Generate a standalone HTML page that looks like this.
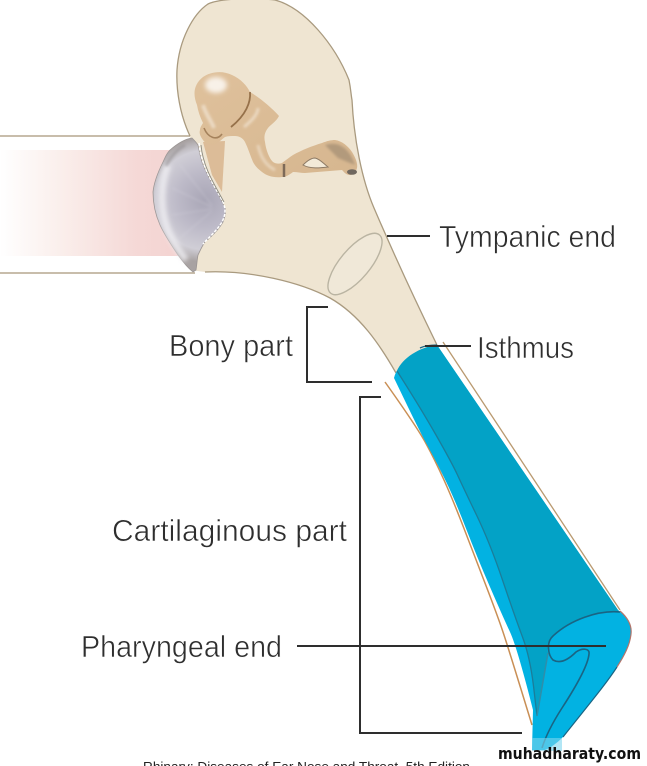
<!DOCTYPE html>
<html><head><meta charset="utf-8"><style>
html,body{margin:0;padding:0;background:#fff}
svg{display:block}
text{font-family:"Liberation Sans",sans-serif;fill:#2e2e2e}
.l{stroke:#fff;stroke-width:.55px}
</style></head><body>
<svg width="647" height="766" viewBox="0 0 647 766" xmlns="http://www.w3.org/2000/svg">
<defs>
<linearGradient id="pink" x1="0" x2="1" y1="0" y2="0"><stop offset="0" stop-color="#fff"/><stop offset=".35" stop-color="#faeeeb"/><stop offset=".75" stop-color="#f5d9d7"/><stop offset="1" stop-color="#f4d3d1"/></linearGradient>
<radialGradient id="drum" gradientUnits="userSpaceOnUse" cx="205" cy="200" r="62"><stop offset="0" stop-color="#a9a6b6"/><stop offset="0.45" stop-color="#bdbac8"/><stop offset="0.8" stop-color="#d0ced6"/><stop offset="1" stop-color="#a8a2a2"/></radialGradient>
<linearGradient id="bodyc" x1="0" y1="0" x2="1" y2="1"><stop offset="0" stop-color="#dfc19c"/><stop offset="1" stop-color="#d6b68f"/></linearGradient>
<filter id="b2" x="-50%" y="-50%" width="200%" height="200%"><feGaussianBlur stdDeviation="2.5"/></filter>
<filter id="b1" x="-50%" y="-50%" width="200%" height="200%"><feGaussianBlur stdDeviation="1.2"/></filter>
</defs>
<rect x="0" y="150" width="178" height="106" fill="url(#pink)"/>
<path d="M0 136H190M0 273H195" stroke="#b5a78f" stroke-width="1.6" fill="none"/>
<!-- bone -->
<path d="M190 136C180 115 176 90 177 70C179 40 193 14 208 4C218 -1 250 -3 275 0C305 8 335 45 349 80C351 90 351 95 352 100C354 140 362 180 374 208C392 250 415 300 437 345L396 373C380 345 360 315 330 298C300 282 250 270 205 272L190 270Z" fill="#efe5d2"/>
<path d="M190 136C180 115 176 90 177 70C179 40 193 14 208 4C218 -1 250 -3 275 0C305 8 335 45 349 80C351 90 351 95 352 100C354 140 362 180 374 208C392 250 415 300 437 345" fill="none" stroke="#a99a7f" stroke-width="1.3"/>
<path d="M396 373C380 345 360 315 330 298C300 282 250 270 205 272" fill="none" stroke="#a99a7f" stroke-width="1.3"/>
<ellipse cx="355" cy="264" rx="38" ry="15" transform="rotate(-50 355 264)" fill="#f0e8d8" stroke="#bab4a2" stroke-width="1.4"/>
<!-- manubrium behind drum -->
<path d="M203 142L225 141L222 192L212 175Z" fill="#dcbc98"/>
<!-- ossicles -->
<path d="M197 105C193 95 193 85 203 77C210 72 222 70 232 75C241 79 247 86 250 92C260 98 272 108 279 116C276 122 270 125 268 128C264 133 264 138 265 142C266 150 269 158 273 162C276 164 279 164 282 163C286 160 290 157 293 155C302 150 312 146 322 143C327 141 331 140 335 140C342 141 348 146 352 152C355 157 358 163 357 168C356 172 353 175 350 175C346 175 344 172 342 170C330 171 317 172 305 173C301 173 297 172 293 172C289 175 286 177 282 177C274 178 267 176 262 172C258 169 255 166 253 162C250 155 248 148 245 142C243 138 239 136 235 136C231 136 228 136 225 137C221 140 217 144 213 145C208 145 205 143 203 140C200 136 199 133 200 130C200 127 202 125 203 123C200 117 198 111 197 105Z" fill="url(#bodyc)"/>
<ellipse cx="216" cy="85" rx="11" ry="8" fill="#f8f1e8" filter="url(#b2)"/>
<path d="M203 105C206 115 212 122 214 128" stroke="#efe0cc" stroke-width="4" fill="none" filter="url(#b1)" opacity=".8"/>
<path d="M258 108C258 115 250 122 244 127" stroke="#efe0cc" stroke-width="3" fill="none" filter="url(#b1)" opacity=".8"/>
<path d="M250 92C251 102 246 115 231 127" stroke="#96714a" stroke-width="1.8" fill="none"/>
<path d="M258 145C260 155 265 165 275 170" stroke="#efe0cc" stroke-width="3" fill="none" filter="url(#b1)" opacity=".7"/>
<path d="M204 128C208 138 217 141 222 134" stroke="#a5825c" stroke-width="1.6" fill="none"/>
<path d="M284 164V177" stroke="#7d6a58" stroke-width="2.5"/>
<path d="M303 165C308 160 312 158 315 158C320 159 324 164 328 167C320 168 310 169 303 165Z" fill="#f3ead8" stroke="#8d7a65" stroke-width="1"/>
<path d="M325 145C340 140 350 150 355 165L338 158Z" fill="#b29a7c" filter="url(#b1)"/>
<ellipse cx="352" cy="172" rx="5" ry="2.8" fill="#6f675f"/>
<!-- drum -->
<path d="M192 138C185 139 178 143 170 150C166 154 165 158 163 162C158 172 154 182 153 192C153 205 156 216 160 225C165 236 172 246 178 255C183 262 188 268 193 272L196 270C197 264 197 260 198 255C200 251 202 246 205 242C212 236 219 229 223 222C225 217 226 212 225 208C222 202 219 195 215 188C210 180 205 170 202 162C200 155 199 150 198 145C196 142 194 140 192 138Z" fill="url(#drum)" stroke="#9b9594" stroke-width=".8"/>
<path d="M168 165C160 185 160 210 168 230C173 242 180 252 186 260" stroke="#eeedf1" stroke-width="7" fill="none" opacity=".85" filter="url(#b2)"/>
<path d="M185 145C176 150 170 158 166 166" stroke="#8f8b8d" stroke-width="3" fill="none" opacity=".5" filter="url(#b1)"/>
<g stroke="#e6e5ec" stroke-width=".8" opacity=".35" filter="url(#b1)"><path d="M212 205L180 165M212 207L172 188M212 209L172 215M212 211L180 238"/></g>
<path d="M199 143C201 165 212 182 222 200C226 208 226 214 222 222C216 232 208 238 203 244" stroke="#fff" stroke-width="1.5" fill="none" stroke-dasharray="3 1.5"/>
<path d="M201 145C203 167 214 184 224 202" stroke="#8a8a82" stroke-width=".9" fill="none"/>
<!-- tan edges -->
<path d="M443 342L620 610" stroke="#b9996f" stroke-width="1.3" fill="none"/>
<path d="M385 382Q417 427 426 443.5Q435 460 444 480Q453 500 464 528.5Q475 557 486.5 587Q498 617 503 632Q508 647 520 686L532 725" stroke="#c98f55" stroke-width="1.5" fill="none"/>
<!-- blue -->
<path d="M394 378C398 362 418 347 437 345L618 610C628 618 632 626 631 634C630 645 624 656 617 667C608 680 598 693 590 703C578 718 570 729 563 737C556 744 550 748 545 750H532L533 710Q517 647 510 632Q503 617 490 587Q477 557 466 528.5Q455 500 446 481.5Q437 463 428.5 447.5Q420 432 407 405Z" fill="#02b2e2"/>
<path d="M397 371C402 358 420 347 437 345L618 610L620 612C598 610 570 620 553 636C548 642 547 648 548 653L537 716L533.5 686Q530 657 522.5 637Q515 617 502.5 580Q490 543 476.5 515Q463 487 457.5 475Q452 463 436 435Q420 407 397 371Z" fill="#03a2c6"/>
<path d="M397 371Q420 407 436 435Q452 463 457.5 475Q463 487 476.5 515Q490 543 502.5 580Q515 617 522.5 637Q530 657 533.5 686L537 716" stroke="#1b7d9a" stroke-width="1.3" fill="none"/>
<path d="M537 716L548 653" stroke="#2f8eaa" stroke-width="1.5" fill="none"/>
<path d="M620 612C598 610 570 620 553 636C546 642 548 655 553 660C560 664 568 660 576 652C582 648 590 648 589 654C588 666 575 688 562 708C553 722 546 735 542 748" stroke="#1a6483" stroke-width="1.6" fill="none"/>
<path d="M437 345C428 345 424 346 420 348" stroke="#1a6483" stroke-width="1.3" fill="none"/>
<path d="M620 611C628 618 632 626 631 634C630 645 624 656 617 667" stroke="#b2746a" stroke-width="1.2" fill="none"/>
<path d="M617 667C606 684 590 703 563 737" stroke="#1a6483" stroke-width="1.2" fill="none"/>
<rect x="532" y="738" width="30" height="13" fill="#7fd6ee" opacity=".6"/>
<!-- leader lines -->
<g stroke="#2e2e2e" stroke-width="2" fill="none">
<path d="M387 236H430"/>
<path d="M425 346H471"/>
<path d="M328 307H307V382H372"/>
<path d="M381 397H360V733H522"/>
<path d="M297 646H606"/>
</g>
<!-- labels -->
<text class="l" x="439" y="247" font-size="31" textLength="177" lengthAdjust="spacingAndGlyphs">Tympanic end</text>
<text class="l" x="477" y="358" font-size="31" textLength="97" lengthAdjust="spacingAndGlyphs">Isthmus</text>
<text class="l" x="169" y="356" font-size="31" textLength="124" lengthAdjust="spacingAndGlyphs">Bony part</text>
<text class="l" x="112" y="541" font-size="31" textLength="235" lengthAdjust="spacingAndGlyphs">Cartilaginous part</text>
<text class="l" x="81" y="657" font-size="31" textLength="201" lengthAdjust="spacingAndGlyphs">Pharyngeal end</text>
<text x="143" y="771" font-size="12.5" textLength="327" lengthAdjust="spacingAndGlyphs" style="fill:#222">Rhinary: Diseases of Ear Nose and Throat, 5th Edition</text>
<text x="498" y="759" font-size="16" textLength="143" lengthAdjust="spacingAndGlyphs" style="font-family:'DejaVu Sans',sans-serif;font-weight:bold;fill:#111">muhadharaty.com</text>
</svg>
</body></html>
